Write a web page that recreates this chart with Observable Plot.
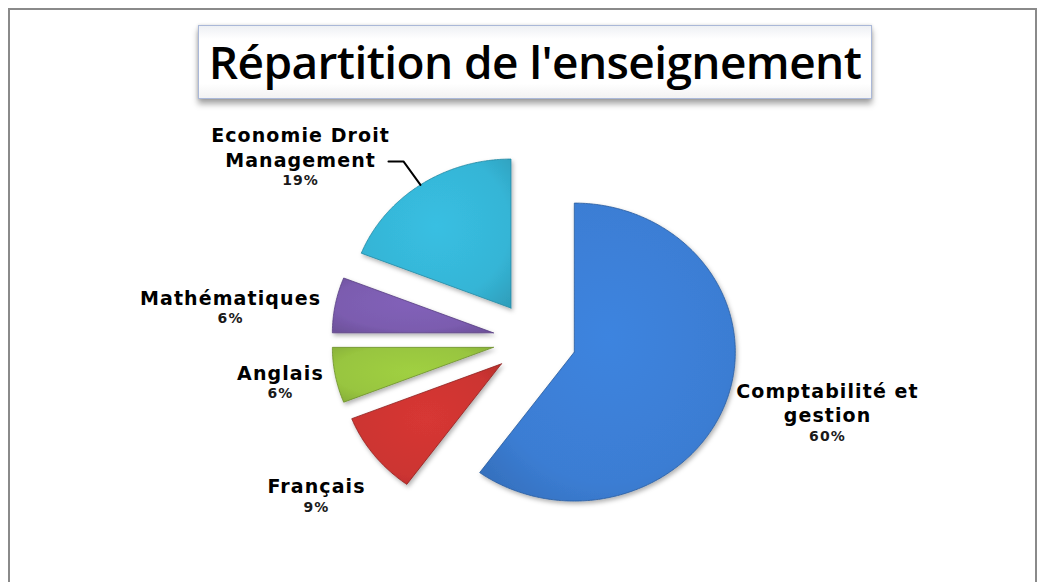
<!DOCTYPE html>
<html>
<head>
<meta charset="utf-8">
<script src="https://cdn.jsdelivr.net/npm/d3@7"></script>
<script src="https://cdn.jsdelivr.net/npm/@observablehq/plot@0.6"></script>
<style>
  html, body { margin: 0; padding: 0; background: #fff; }
  #wrap { position: relative; width: 1044px; height: 582px; overflow: hidden; background: #fff; }
  #frame { position: absolute; left: 8px; top: 8px; width: 1029px; height: 620px; border: 2px solid #8a8a8a; box-sizing: border-box; }
  #title { position: absolute; left: 198px; top: 25px; width: 674px; height: 74px; box-sizing: border-box;
    border: 1px solid #aab8d8; background: linear-gradient(#eef0f4 0%, #ffffff 18%, #ffffff 80%, #f2f2f2 100%);
    box-shadow: 0 5px 6px rgba(0,0,0,0.35), 0 0 3px rgba(0,0,0,0.15);
    font-family: "Open Sans", "Noto Sans", sans-serif; font-weight: 600; font-size: 46px; color: #000;
    text-align: center; line-height: 70px; letter-spacing: -0.6px; }
  #chart { position: absolute; left: 0; top: 0; }
  #chart text { letter-spacing: 1.1px; }
</style>
</head>
<body>
<div id="wrap">
  <div id="frame"></div>
  <div id="chart"></div>
  <div id="title">Répartition de l'enseignement</div>
</div>
<script>
// ---- data ----
const categories = ["Comptabilité et gestion", "Français", "Anglais", "Mathématiques", "Economie Droit Management"];
const nameLines = ["Comptabilité et\ngestion", "Français", "Anglais", "Mathématiques", "Economie Droit\nManagement"];
const shares = [60, 9, 6, 6, 19];
const percentLabels = ["60%", "9%", "6%", "6%", "19%"];

// ---- layout / style (not data) ----
const colors = ["#3b7dd3", "#cc3431", "#98c53f", "#7b5caf", "#35b5d6"];
const strokes = ["#2a5c9e", "#8e2220", "#6c8f2a", "#573f82", "#2388a3"];
const explode = 0.26;           // slice offset, in radius units
const CX = 534, CY = 339.6, RX = 161, RY = 149, W = 1044, H = 582;
// label anchors (radius units, relative to pie centre, y up)
const labelAnchor = [[1.820, -0.551], [-1.354, -1.027], [-1.578, -0.268], [-1.888, 0.236], [-1.453, 1.162]];
const leaderElbow = [-0.814, 1.199], leaderEnd = [-0.907, 1.199];

const pie = d3.pie().sort(null).value(d => d)(shares);
const slices = pie.map((p, i) => {
  const mid = (p.startAngle + p.endAngle) / 2;
  const ox = explode * Math.sin(mid), oy = explode * Math.cos(mid);
  return {i, start: p.startAngle, end: p.endAngle, mid, ox, oy};
});

const polys = slices.map(s => {
  const pts = [{x: s.ox, y: s.oy}];
  const n = Math.max(8, Math.ceil((s.end - s.start) / 0.01));
  for (let k = 0; k <= n; k++) {
    const a = s.start + (s.end - s.start) * k / n;
    pts.push({x: s.ox + Math.sin(a), y: s.oy + Math.cos(a)});
  }
  pts.push({x: s.ox, y: s.oy});
  return pts;
});

const econ = slices[4];
const leader = [
  {x: econ.ox + Math.sin(econ.mid), y: econ.oy + Math.cos(econ.mid)},
  {x: leaderElbow[0], y: leaderElbow[1]},
  {x: leaderEnd[0], y: leaderEnd[1]}
];

const labels = categories.map((c, i) => ({name: nameLines[i], pct: percentLabels[i], x: labelAnchor[i][0], y: labelAnchor[i][1]}));

const gradDefs = () => {
  const svgNS = "http://www.w3.org/2000/svg";
  const g = document.createElementNS(svgNS, "g");
  const defs = document.createElementNS(svgNS, "defs");
  colors.forEach((c, i) => {
    const rg = document.createElementNS(svgNS, "radialGradient");
    rg.setAttribute("id", "sg" + i);
    rg.setAttribute("cx", "0.5"); rg.setAttribute("cy", "0.45"); rg.setAttribute("r", "0.7");
    const c0 = d3.color(c).brighter(0.15).formatHex();
    const c1 = c;
    const c2 = d3.color(c).darker(0.35).formatHex();
    [[0, c0], [0.7, c1], [1, c2]].forEach(([o, col]) => {
      const st = document.createElementNS(svgNS, "stop");
      st.setAttribute("offset", o); st.setAttribute("stop-color", col);
      rg.appendChild(st);
    });
    defs.appendChild(rg);
  });
  const f = document.createElementNS(svgNS, "filter");
  f.setAttribute("id", "shadow");
  f.setAttribute("x", "-20%"); f.setAttribute("y", "-20%"); f.setAttribute("width", "140%"); f.setAttribute("height", "140%");
  f.innerHTML = '<feDropShadow dx="1.5" dy="2.5" stdDeviation="2" flood-color="#000" flood-opacity="0.3"/>';
  defs.appendChild(f);
  g.appendChild(defs);
  return g;
};

const sliceMarks = polys.map((pts, i) => Plot.line(pts, {
  x: "x", y: "y", fill: `url(#sg${i})`, stroke: strokes[i], strokeWidth: 1, strokeOpacity: 0.8,
  className: "slice"
}));

const labelFont = "'DejaVu Sans', Lato, sans-serif";

const chart = Plot.plot({
  width: W, height: H,
  margin: 0,
  x: {domain: [(0 - CX) / RX, (W - CX) / RX], range: [0, W], axis: null},
  y: {domain: [(CY - H) / RY, CY / RY], range: [H, 0], axis: null},
  style: {background: "transparent", overflow: "visible"},
  marks: [
    gradDefs,
    ...sliceMarks,
    Plot.line(leader, {x: "x", y: "y", stroke: "#000", strokeWidth: 2}),
    Plot.text(labels, {x: "x", y: "y", text: "name", lineAnchor: "bottom", lineHeight: 1.3,
      fontSize: 19, fontWeight: "bold", fontFamily: labelFont, fill: "#000"}),
    Plot.text(labels, {x: "x", y: "y", text: "pct", lineAnchor: "top", dy: 8.5,
      fontSize: 14, fontWeight: "bold", fontFamily: labelFont, fill: "#1a1a1a"})
  ]
});
chart.querySelectorAll("g.slice").forEach(g => g.setAttribute("filter", "url(#shadow)"));
document.getElementById("chart").appendChild(chart);
</script>
</body>
</html>
